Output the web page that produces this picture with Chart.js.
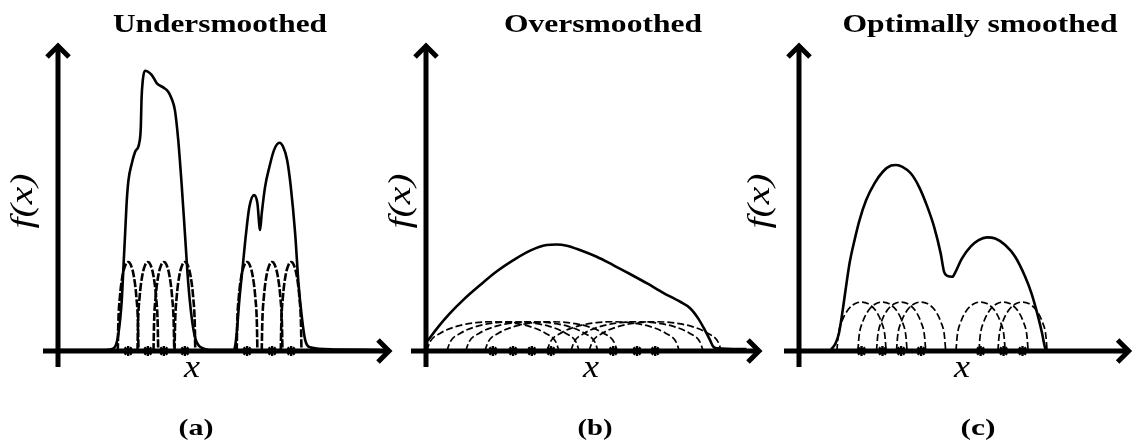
<!DOCTYPE html>
<html>
<head>
<meta charset="utf-8">
<title>Kernel density smoothing</title>
<script src="https://cdn.jsdelivr.net/npm/chart.js@4.4.0/dist/chart.umd.min.js"></script>
<style>
  html, body { margin: 0; padding: 0; background: #fff; }
  #wrap { position: relative; width: 1139px; height: 447px; overflow: hidden; }
  .panel { position: absolute; top: 0; }
</style>
</head>
<body>
<div id="wrap">
  <canvas id="chartA" class="panel" width="400" height="447" style="left:0px"></canvas>
  <canvas id="chartB" class="panel" width="390" height="447" style="left:380px"></canvas>
  <canvas id="chartC" class="panel" width="399" height="447" style="left:740px"></canvas>
</div>
<script>
// density estimates (x, f(x)), axis units 0..10
const underCurve = [
  [0, 0.03], [1.26, 0.03], [1.56, 0.05], [1.71, 0.14], [1.81, 0.57], [1.91, 1.66],
  [1.96, 2.74], [2.01, 3.82], [2.06, 4.9], [2.11, 5.55], [2.21, 6.09], [2.31, 6.47],
  [2.43, 6.74], [2.48, 7.28], [2.5, 8.15], [2.54, 8.8], [2.6, 9.1], [2.81, 8.96],
  [2.96, 8.69], [3.15, 8.56], [3.3, 8.42], [3.4, 8.2], [3.5, 7.82], [3.6, 6.85],
  [3.7, 5.44], [3.8, 3.82], [3.9, 2.2], [4.0, 1.11], [4.1, 0.46], [4.25, 0.14],
  [4.65, 0.03], [5.25, 0.03], [5.3, 0.14], [5.35, 0.57], [5.43, 1.66], [5.53, 2.74],
  [5.63, 3.82], [5.73, 4.68], [5.87, 5.06], [5.97, 4.8], [6.05, 3.93], [6.1, 4.47],
  [6.2, 5.33], [6.33, 5.98], [6.47, 6.53], [6.63, 6.76], [6.74, 6.63], [6.86, 6.2],
  [6.97, 5.33], [7.1, 3.82], [7.2, 2.2], [7.3, 1.11], [7.4, 0.36], [7.54, 0.12],
  [8.24, 0.05], [9.64, 0.03]
];
const overCurve = [
  [0.05, 0.33], [0.37, 0.79], [0.71, 1.22], [1.11, 1.66], [1.61, 2.14], [2.1, 2.58],
  [2.6, 2.95], [3.1, 3.26], [3.59, 3.44], [3.89, 3.46], [4.19, 3.42], [4.58, 3.28],
  [5.08, 3.06], [5.57, 2.79], [6.07, 2.5], [6.57, 2.2], [7.06, 1.89], [7.56, 1.6],
  [7.86, 1.39], [8.1, 1.06], [8.3, 0.68], [8.45, 0.36], [8.55, 0.14], [8.65, 0.09],
  [9.54, 0.06]
];
const optimalCurve = [
  [0.97, 0.05], [1.1, 0.25], [1.2, 0.57], [1.3, 1.22], [1.4, 1.98], [1.52, 2.85],
  [1.67, 3.6], [1.82, 4.25], [2.02, 4.9], [2.27, 5.44], [2.52, 5.82], [2.77, 6.02],
  [2.92, 6.04], [3.11, 5.98], [3.36, 5.77], [3.61, 5.33], [3.86, 4.68], [4.06, 4.04],
  [4.26, 3.17], [4.36, 2.58], [4.46, 2.44], [4.61, 2.41], [4.71, 2.58], [4.9, 3.01],
  [5.16, 3.39], [5.4, 3.6], [5.65, 3.69], [5.9, 3.65], [6.2, 3.44], [6.5, 3.06],
  [6.8, 2.41], [6.99, 1.87], [7.19, 1.11], [7.31, 0.57], [7.39, 0.14], [7.42, 0.05]
];

// sample locations (stars on the x axis)
const samplesA = [2.1, 2.69, 3.17, 3.8, 5.66, 6.41, 6.98];
const samplesB = [1.99, 2.59, 3.15, 3.72, 5.57, 6.28, 6.82];
const samplesC = [1.88, 2.51, 3.07, 3.67, 5.46, 6.15, 6.72];

// kernel bump: [offset / half-width, height fraction]
const kernelShape = [
  [-1, 0], [-0.95, 0.31], [-0.8, 0.6], [-0.55, 0.84], [-0.25, 0.97], [0, 1],
  [0.25, 0.97], [0.55, 0.84], [0.8, 0.6], [0.95, 0.31], [1, 0]
];
// [half-width, height] of each panel's kernel
const bandA = [0.31, 2.89];
const bandB = [1.97, 0.95];
const bandC = [0.74, 1.59];

const SERIF = '"Liberation Serif", "Times New Roman", serif';

// the figure's lettering is set wide, so text is squeezed/stretched to a given width
function stretchedText(ctx, text, x, y, font, width, vertical) {
  ctx.save();
  ctx.font = font;
  const natural = ctx.measureText(text).width;
  ctx.translate(x, y);
  if (vertical) ctx.rotate(-Math.PI / 2);
  ctx.scale(width / natural, 1);
  ctx.textAlign = 'center';
  ctx.textBaseline = vertical ? 'middle' : 'alphabetic';
  ctx.fillStyle = '#000';
  ctx.fillText(text, 0, 0);
  ctx.restore();
}

const framePlugin = {
  id: 'kdeFrame',
  beforeDatasetsDraw(chart) {
    const { ctx, chartArea: a } = chart;
    const ox = chart.scales.x.getPixelForValue(0);
    const oy = chart.scales.y.getPixelForValue(0);
    ctx.save();
    ctx.strokeStyle = '#000';
    ctx.lineWidth = 5;
    ctx.lineJoin = 'miter';
    ctx.beginPath();
    ctx.moveTo(ox - 15, oy);
    ctx.lineTo(a.right - 3, oy);
    ctx.moveTo(ox, oy + 16);
    ctx.lineTo(ox, a.top + 3);
    ctx.stroke();
    // arrow heads
    ctx.beginPath();
    ctx.moveTo(a.right - 14, oy - 11);
    ctx.lineTo(a.right - 3, oy);
    ctx.lineTo(a.right - 14, oy + 11);
    ctx.moveTo(ox - 11, a.top + 14);
    ctx.lineTo(ox, a.top + 3);
    ctx.lineTo(ox + 11, a.top + 14);
    ctx.stroke();
    ctx.restore();
  },
  afterDraw(chart, args, opts) {
    const ctx = chart.ctx;
    const dx = -opts.offset;
    stretchedText(ctx, opts.title, opts.titleX + dx, 32, 'bold 26px ' + SERIF, opts.titleW);
    stretchedText(ctx, 'x', opts.xLabelX + dx, 377, 'italic 31px ' + SERIF, 16);
    stretchedText(ctx, 'f(x)', opts.fLabelX + dx, 201, 'italic 31px ' + SERIF, 55, true);
    stretchedText(ctx, opts.caption, opts.captionX + dx, 435, 'bold 24px ' + SERIF, 35);
  }
};

function kernelSets(samples, band, lineWidth, dash) {
  return samples.map(c => ({
    data: kernelShape.map(([u, v]) => ({ x: c + u * band[0], y: v * band[1] })),
    showLine: true,
    borderColor: '#000',
    borderWidth: lineWidth,
    borderDash: dash,
    pointRadius: 0,
    cubicInterpolationMode: 'monotone',
    clip: false
  }));
}

function makePanel(id, offset, area, curve, samples, band, kernelWidth, dash, text) {
  const canvas = document.getElementById(id);
  const datasets = [
    ...kernelSets(samples, band, kernelWidth, dash),
    {
      data: curve.map(([x, y]) => ({ x, y })),
      showLine: true,
      borderColor: '#000',
      borderWidth: 2.6,
      pointRadius: 0,
      cubicInterpolationMode: 'monotone',
      clip: false
    },
    {
      data: samples.map(x => ({ x, y: 0 })),
      showLine: false,
      pointStyle: 'star',
      pointRadius: 5,
      borderColor: '#000',
      borderWidth: 2.4,
      backgroundColor: '#000',
      clip: false
    }
  ];
  return new Chart(canvas, {
    type: 'scatter',
    data: { datasets },
    options: {
      responsive: false,
      animation: false,
      devicePixelRatio: 1,
      events: [],
      layout: {
        padding: {
          left: area[0] - offset,
          right: offset + canvas.width - area[1],
          top: area[2],
          bottom: canvas.height - area[3]
        }
      },
      scales: {
        x: { type: 'linear', min: 0, max: 10, display: false },
        y: { type: 'linear', min: 0, max: 10, display: false }
      },
      plugins: {
        legend: { display: false },
        tooltip: { enabled: false },
        kdeFrame: Object.assign({ offset }, text)
      }
    },
    plugins: [framePlugin]
  });
}

makePanel('chartA', 0, [58, 392, 43, 351], underCurve, samplesA, bandA, 2.6, [8, 2], {
  title: 'Undersmoothed', titleX: 220, titleW: 214,
  xLabelX: 192, fLabelX: 24, caption: '(a)', captionX: 196
});
makePanel('chartB', 380, [426, 762, 43, 351], overCurve, samplesB, bandB, 1.7, [7, 3], {
  title: 'Oversmoothed', titleX: 603, titleW: 198,
  xLabelX: 591, fLabelX: 402, caption: '(b)', captionX: 595
});
makePanel('chartC', 740, [799, 1134, 43, 351], optimalCurve, samplesC, bandC, 1.7, [7, 3], {
  title: 'Optimally smoothed', titleX: 980, titleW: 275,
  xLabelX: 962, fLabelX: 761, caption: '(c)', captionX: 978
});
</script>
</body>
</html>
